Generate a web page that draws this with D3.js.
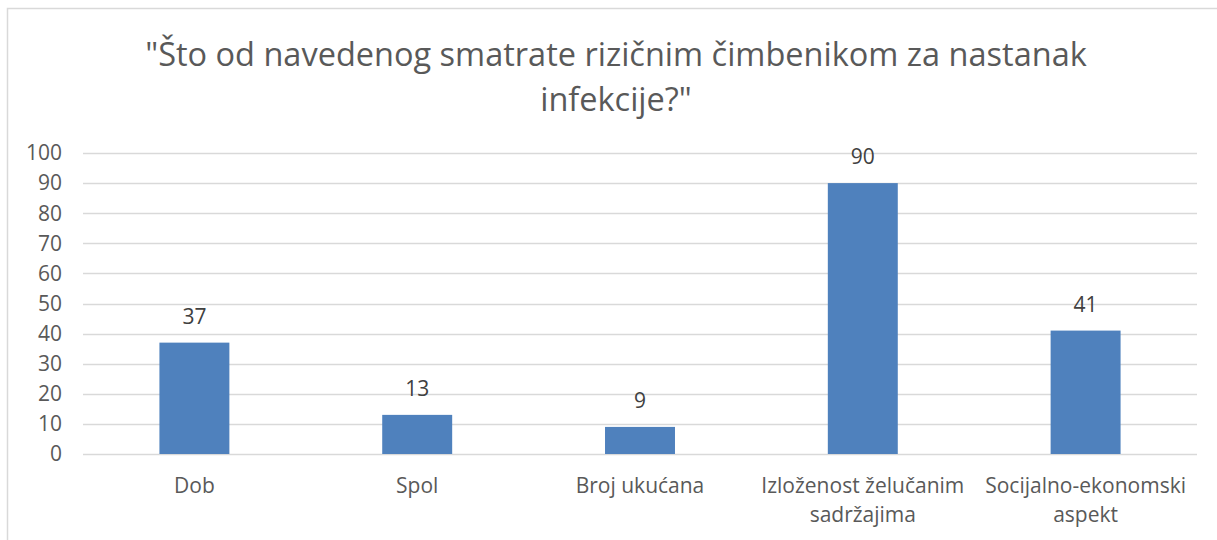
<!DOCTYPE html>
<html>
<head>
<meta charset="utf-8">
<script src="https://cdn.jsdelivr.net/npm/d3@7"></script>
<style>
  body { margin: 0; background: #fff; }
  svg { display: block; }
  text { font-family: "Open Sans", Lato, sans-serif; fill: #595959; }
</style>
</head>
<body>
<script>
// chart data
var titleLines = ['"Što od navedenog smatrate rizičnim čimbenikom za nastanak', 'infekcije?"'];
var categories = [['Dob'], ['Spol'], ['Broj ukućana'], ['Izloženost želučanim', 'sadržajima'], ['Socijalno-ekonomski', 'aspekt']];
var values = [37, 13, 9, 90, 41];
var yTicks = [0, 10, 20, 30, 40, 50, 60, 70, 80, 90, 100];

var width = 1217, height = 540;
var margin = {left: 83, right: 20, top: 153, bottom: 86};

var svg = d3.select('body').append('svg')
  .attr('width', width)
  .attr('height', height);

// outer chart border
svg.append('rect')
  .attr('x', 7.5).attr('y', 8.5)
  .attr('width', 1220).attr('height', 560)
  .attr('fill', 'none')
  .attr('stroke', '#d9d9d9')
  .attr('stroke-width', 1.5);

var x = d3.scaleBand()
  .domain(d3.range(categories.length))
  .range([margin.left, width - margin.right])
  .padding(0);

var y = d3.scaleLinear()
  .domain([0, 100])
  .range([height - margin.bottom, margin.top]);

// gridlines
svg.append('g')
  .selectAll('line')
  .data(yTicks)
  .enter()
  .append('line')
  .attr('x1', margin.left)
  .attr('x2', width - margin.right)
  .attr('y1', function(d) { return Math.round(y(d)) + 0.5; })
  .attr('y2', function(d) { return Math.round(y(d)) + 0.5; })
  .attr('stroke', '#d9d9d9')
  .attr('stroke-width', 1.5);

// y labels
svg.append('g')
  .selectAll('text')
  .data(yTicks)
  .enter()
  .append('text')
  .attr('x', 62)
  .attr('y', function(d) { return y(d); })
  .attr('dy', '0.35em')
  .attr('text-anchor', 'end')
  .style('font-size', '21px')
  .text(function(d) { return d; });

var barW = x.bandwidth() * 0.314;

// bars
svg.append('g')
  .selectAll('rect')
  .data(values)
  .enter()
  .append('rect')
  .attr('x', function(d, i) { return x(i) + x.bandwidth() / 2 - barW / 2; })
  .attr('y', function(d) { return y(d); })
  .attr('width', barW)
  .attr('height', function(d) { return y(0) - y(d); })
  .attr('fill', '#4f81bd');

// data labels
svg.append('g')
  .selectAll('text')
  .data(values)
  .enter()
  .append('text')
  .attr('x', function(d, i) { return x(i) + x.bandwidth() / 2; })
  .attr('y', function(d) { return y(d) - 19; })
  .attr('text-anchor', 'middle')
  .style('font-size', '21px')
  .style('fill', '#404040')
  .text(function(d) { return d; });

// category labels
var cat = svg.append('g')
  .selectAll('text')
  .data(categories)
  .enter()
  .append('text')
  .attr('text-anchor', 'middle')
  .style('font-size', '21px');

cat.selectAll('tspan')
  .data(function(d, i) { return d.map(function(s) { return {s: s, i: i}; }); })
  .enter()
  .append('tspan')
  .attr('x', function(d) { return x(d.i) + x.bandwidth() / 2; })
  .attr('y', function(d, j) { return 493 + j * 29; })
  .text(function(d) { return d.s; });

// title
svg.append('g')
  .selectAll('text')
  .data(titleLines)
  .enter()
  .append('text')
  .attr('x', 616)
  .attr('y', function(d, i) { return 66 + i * 45; })
  .attr('text-anchor', 'middle')
  .style('font-size', '32.5px')
  .text(function(d) { return d; });
</script>
</body>
</html>
